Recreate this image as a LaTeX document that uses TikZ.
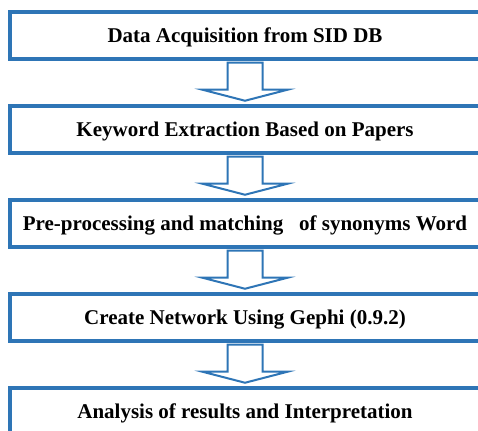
\documentclass[tikz,border=0pt]{standalone}
\usepackage{fontspec}
\setmainfont{Liberation Serif}
\usepackage{tikz}
\definecolor{flowblue}{RGB}{46,117,182}
\tikzset{
  stepbox/.style={draw=flowblue, line width=3.5pt, fill=white,
    minimum width=470pt, minimum height=47pt, inner sep=0pt,
    text height=14pt, text depth=0pt,
    font=\fontsize{21}{25}\selectfont\bfseries},
  flowarrow/.style={draw=flowblue, line width=2pt, fill=white,
    line join=miter}
}

\begin{document}
\begin{tikzpicture}

  %% Page frame (the boxes run past the right and bottom edges).
  \useasboundingbox (0pt,0pt) rectangle (478pt,430pt);
  \clip (0pt,0pt) rectangle (478pt,430pt);

  %% The steps:
  \node[stepbox] (b1) at (245pt,394.5pt) {Data Acquisition from SID DB};
  \node[stepbox] (b2) at (245pt,300.5pt) {Keyword Extraction Based on Papers};
  \node[stepbox] (b3) at (245pt,206.5pt)
  {Pre-processing and matching\ \ \ of synonyms Word};
  \node[stepbox] (b4) at (245pt,112.5pt) {Create Network Using Gephi (0.9.2)};
  \node[stepbox] (b5) at (245pt,18.5pt)
  {Analysis of results and Interpretation};

  %% The block arrows between the steps:
  \draw[flowarrow] ([xshift=-17.5pt,yshift=-2pt]b1.south)
  -- ([xshift=-17.5pt,yshift=14.5pt]b2.north)
  -- ([xshift=-42.5pt,yshift=14.5pt]b2.north)
  -- ([yshift=3.5pt]b2.north)
  -- ([xshift=42.5pt,yshift=14.5pt]b2.north)
  -- ([xshift=17.5pt,yshift=14.5pt]b2.north)
  -- ([xshift=17.5pt,yshift=-2pt]b1.south) -- cycle;

  \draw[flowarrow] ([xshift=-17.5pt,yshift=-2pt]b2.south)
  -- ([xshift=-17.5pt,yshift=14.5pt]b3.north)
  -- ([xshift=-42.5pt,yshift=14.5pt]b3.north)
  -- ([yshift=3.5pt]b3.north)
  -- ([xshift=42.5pt,yshift=14.5pt]b3.north)
  -- ([xshift=17.5pt,yshift=14.5pt]b3.north)
  -- ([xshift=17.5pt,yshift=-2pt]b2.south) -- cycle;

  \draw[flowarrow] ([xshift=-17.5pt,yshift=-2pt]b3.south)
  -- ([xshift=-17.5pt,yshift=14.5pt]b4.north)
  -- ([xshift=-42.5pt,yshift=14.5pt]b4.north)
  -- ([yshift=3.5pt]b4.north)
  -- ([xshift=42.5pt,yshift=14.5pt]b4.north)
  -- ([xshift=17.5pt,yshift=14.5pt]b4.north)
  -- ([xshift=17.5pt,yshift=-2pt]b3.south) -- cycle;

  \draw[flowarrow] ([xshift=-17.5pt,yshift=-2pt]b4.south)
  -- ([xshift=-17.5pt,yshift=14.5pt]b5.north)
  -- ([xshift=-42.5pt,yshift=14.5pt]b5.north)
  -- ([yshift=3.5pt]b5.north)
  -- ([xshift=42.5pt,yshift=14.5pt]b5.north)
  -- ([xshift=17.5pt,yshift=14.5pt]b5.north)
  -- ([xshift=17.5pt,yshift=-2pt]b4.south) -- cycle;

\end{tikzpicture}
\end{document}
